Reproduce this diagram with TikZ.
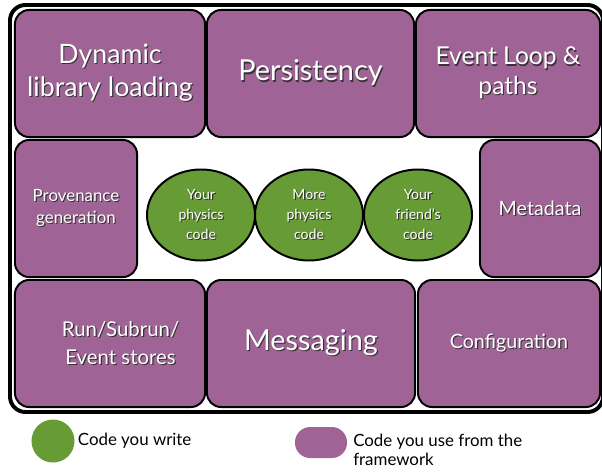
\documentclass[tikz,border=0pt]{standalone}
\usepackage{fontspec}
\setmainfont{Lato}
\usetikzlibrary{positioning, shapes.geometric}
\definecolor{fwpurple}{RGB}{160,99,150}
\definecolor{codegreen}{RGB}{102,155,53}
\newcommand{\shtext}[1]{\leavevmode\rlap{\kern0.8pt\raisebox{-0.8pt}{\color{black!80}#1}}#1}

\begin{document}
\begin{tikzpicture}
	[x=0.025cm, y=-0.025cm,
	 fw/.style={draw=black, line width=1.4pt, fill=fwpurple, rounded corners=10pt,
	   text=white, align=center, inner sep=0pt},
	 mine/.style={draw=black, line width=1.4pt, fill=codegreen, ellipse,
	   minimum width=2.7cm, minimum height=2.275cm, text=white, align=center,
	   font=\fontsize{10}{14}\selectfont, inner sep=0pt}]
   \useasboundingbox (0,0) rectangle (602,473);
   \draw[line width=2.8pt, fill=white, rounded corners=11pt] (10,5) rectangle (603,412);
   \node[fw, minimum width=4.75cm, minimum height=3.175cm, font=\fontsize{19}{23.5}\selectfont]
      (dyn_load) at (110,73.5) {\shtext{Dynamic}\\\shtext{library loading}};
   \node[fw, minimum width=5.175cm, minimum height=3.175cm, font=\fontsize{20.5}{22}\selectfont]
      (persist) at (310.5,73.5) {\shtext{Persistency}};
   \node[fw, minimum width=4.6cm, minimum height=3.175cm, font=\fontsize{17.5}{21}\selectfont]
      (evt_loop) at (508,73.5) {\shtext{Event Loop \&}\\\shtext{paths}};
   \node[fw, minimum width=3.05cm, minimum height=3.425cm, font=\fontsize{12}{15.5}\selectfont]
      (prov) at (76,208.5) {\shtext{Provenance}\\\shtext{generation}};
   \node[fw, minimum width=3.0cm, minimum height=3.425cm, font=\fontsize{14}{16}\selectfont]
      (meta) at (540,208.5) {\shtext{Metadata}};
   \node[fw, minimum width=4.75cm, minimum height=3.175cm, font=\fontsize{14.5}{20}\selectfont]
      (stores) at (110,343.5) {\kern15pt\shtext{Run/Subrun/}\\\kern15pt\shtext{Event stores}};
   \node[fw, minimum width=5.2cm, minimum height=3.175cm, font=\fontsize{20.5}{22}\selectfont]
      (msg) at (311,343.5) {\shtext{Messaging}};
   \node[fw, minimum width=4.55cm, minimum height=3.175cm, font=\fontsize{14}{16}\selectfont]
      (config) at (509,343.5) {\shtext{Configuration}};
   \node[mine] (phys_1) at (201,215) {\shtext{Your}\\\shtext{physics}\\\shtext{code}};
   \node[mine] (phys_2) at (309,215) {\shtext{More}\\\shtext{physics}\\\shtext{code}};
   \node[mine] (friend) at (418,215) {\shtext{Your}\\\shtext{friend’s}\\\shtext{code}};
   \node[circle, fill=codegreen, minimum size=1.075cm, inner sep=0pt] (key_mine) at (53,441) {};
   \node[font=\fontsize{12}{13.5}\selectfont, inner sep=0pt, right=2pt of key_mine] (key_mine_txt) {Code you write};
   \node[fill=fwpurple, rounded corners=0.38cm, minimum width=1.3cm, minimum height=0.775cm,
      inner sep=0pt] (key_fw) at (321,442.5) {};
   \node[font=\fontsize{12}{13.5}\selectfont, inner sep=0pt, align=left, anchor=north west]
      (key_fw_txt) at (353,434) {Code you use from the\\framework};
\end{tikzpicture}
\end{document}
